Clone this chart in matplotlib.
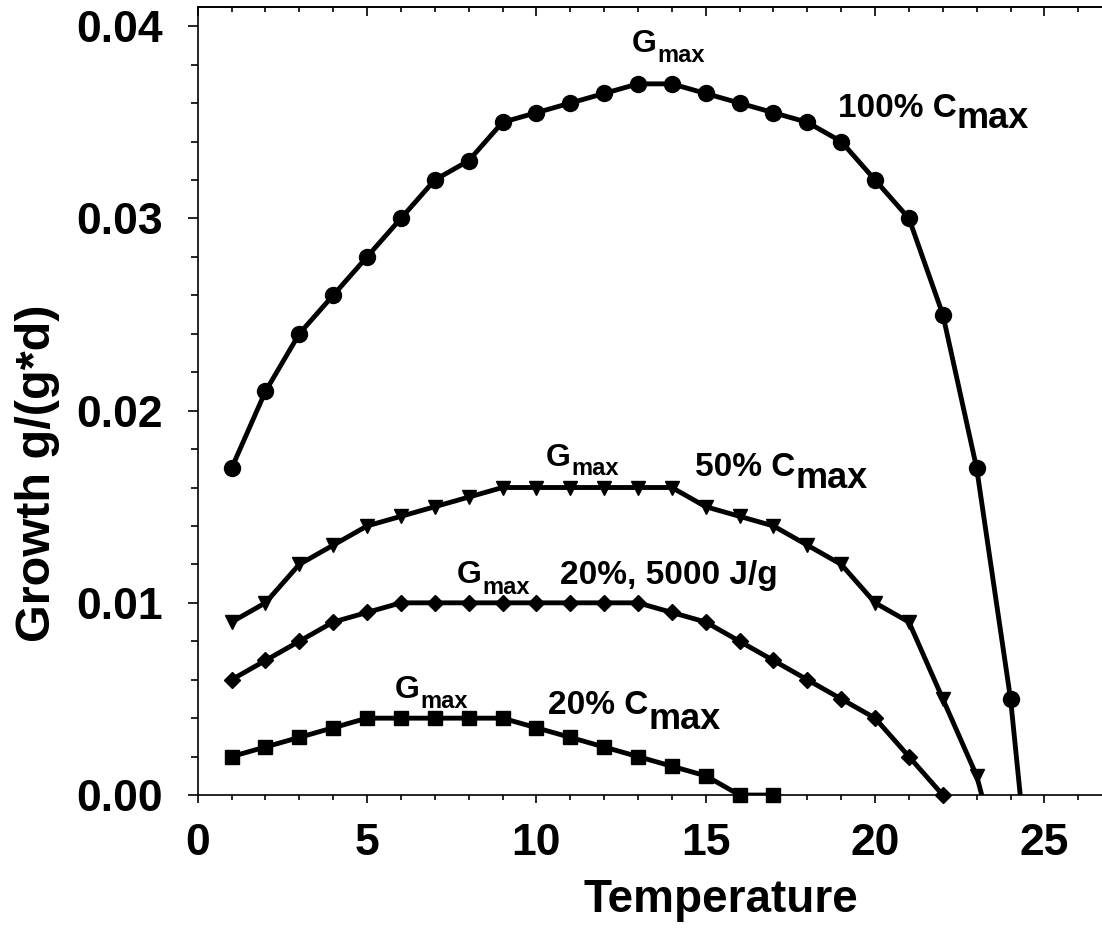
import matplotlib.pyplot as plt
import numpy as np
from matplotlib.ticker import MultipleLocator, FormatStrFormatter

plt.rcParams['font.family'] = ['Liberation Sans', 'DejaVu Sans']
plt.rcParams['font.weight'] = 'bold'

# temperatures and growth values
temp_100 = [1, 2, 3, 4, 5, 6, 7, 8, 9, 10, 11, 12, 13, 14, 15, 16, 17, 18, 19, 20, 21, 22, 23, 24, 25]
growth_100 = [0.017, 0.021, 0.024, 0.026, 0.028, 0.030, 0.032, 0.033, 0.035, 0.0355, 0.036, 0.0365, 0.037,
              0.037, 0.0365, 0.036, 0.0355, 0.035, 0.034, 0.032, 0.030, 0.025, 0.017, 0.005, -0.0125]

temp_50 = [1, 2, 3, 4, 5, 6, 7, 8, 9, 10, 11, 12, 13, 14, 15, 16, 17, 18, 19, 20, 21, 22, 23, 24]
growth_50 = [0.009, 0.010, 0.012, 0.013, 0.014, 0.0145, 0.015, 0.0155, 0.016, 0.016, 0.016, 0.016, 0.016,
             0.016, 0.015, 0.0145, 0.014, 0.013, 0.012, 0.010, 0.009, 0.005, 0.001, -0.0057]

temp_5000 = [1, 2, 3, 4, 5, 6, 7, 8, 9, 10, 11, 12, 13, 14, 15, 16, 17, 18, 19, 20, 21, 22]
growth_5000 = [0.006, 0.007, 0.008, 0.009, 0.0095, 0.010, 0.010, 0.010, 0.010, 0.010, 0.010, 0.010, 0.010,
               0.0095, 0.009, 0.008, 0.007, 0.006, 0.005, 0.004, 0.002, 0.0]

temp_20 = [1, 2, 3, 4, 5, 6, 7, 8, 9, 10, 11, 12, 13, 14, 15, 16, 17]
growth_20 = [0.002, 0.0025, 0.003, 0.0035, 0.004, 0.004, 0.004, 0.004, 0.004, 0.0035, 0.003, 0.0025, 0.002,
             0.0015, 0.001, 0.0, 0.0]

fig = plt.figure(figsize=(11.02, 9.42), dpi=100)
ax = fig.add_axes([0.1794, 0.156, 0.8206, 0.8366])

series = [(temp_100, growth_100, 'o', 11.5),
          (temp_50, growth_50, 'v', 10),
          (temp_5000, growth_5000, 'D', 8.5),
          (temp_20, growth_20, 's', 9.5)]
for t, g, m, ms in series:
    t = np.array(t)
    g = np.array(g)
    ax.plot(t, g, color='black', lw=3.5, zorder=3)
    ok = g >= 0
    ax.plot(t[ok], g[ok], ls='none', marker=m, ms=ms, color='black', clip_on=False, zorder=4)

ax.set_xlim(0, 26.7)
ax.set_ylim(0, 0.041)

ax.xaxis.set_major_locator(MultipleLocator(5))
ax.xaxis.set_minor_locator(MultipleLocator(1))
ax.yaxis.set_major_locator(MultipleLocator(0.01))
ax.yaxis.set_minor_locator(MultipleLocator(0.002))
ax.yaxis.set_major_formatter(FormatStrFormatter('%.2f'))

ax.spines['right'].set_visible(False)
for s in ['left', 'bottom', 'top']:
    ax.spines[s].set_linewidth(1.2)

ax.tick_params(axis='both', which='major', labelsize=32, width=1.2)
ax.tick_params(axis='x', which='major', length=6, pad=14)
ax.tick_params(axis='x', which='minor', length=3.6, width=1.2)
ax.tick_params(axis='y', which='major', length=7, pad=18)
ax.tick_params(axis='y', which='minor', length=5, width=1.2)
ax.tick_params(axis='x', top=False)

top = ax.secondary_xaxis('top')
top.xaxis.set_major_locator(MultipleLocator(5))
top.xaxis.set_minor_locator(MultipleLocator(1))
top.tick_params(axis='x', which='major', direction='in', length=6.5, width=1.2, labeltop=False)
top.tick_params(axis='x', which='minor', direction='in', length=3.6, width=1.2)
top.spines['top'].set_linewidth(1.2)

ax.set_xlabel('Temperature', fontsize=33, fontweight='bold')
ax.set_ylabel('Growth g/(g*d)', fontsize=35, fontweight='bold')
ax.xaxis.set_label_coords(0.578, -0.105)
ax.yaxis.set_label_coords(-0.152, 0.408)

# annotations: base text + large subscript
labels = [
    ('G', 'max', 12.83, 0.03868, 23, 17, 10),
    ('100% C', 'max', 18.91, 0.0353, 24, 26, 11),
    ('G', 'max', 10.29, 0.01713, 23, 17, 9),
    ('50% C', 'max', 14.69, 0.01661, 24, 26, 12),
    ('G', 'max', 7.66, 0.01104, 23, 17, 11),
    ('G', 'max', 5.83, 0.00505, 23, 17, 10),
    ('20% C', 'max', 10.35, 0.00422, 24, 26, 15),
]
texts = []
for base, sub, x, y, fs, sfs, dy in labels:
    tx = ax.text(x, y, base, fontsize=fs, fontweight='bold', ha='left', va='baseline')
    texts.append((tx, sub, x, y, sfs, dy))
ax.text(10.70, 0.01099, '20%, 5000 J/g', fontsize=24, fontweight='bold', ha='left', va='baseline')

fig.canvas.draw()
for tx, sub, x, y, sfs, dy in texts:
    bb = tx.get_window_extent()
    bx, by = ax.transData.transform((x, y))
    fig.text(bb.x1 / fig.bbox.width, (by - dy) / fig.bbox.height, sub, fontsize=sfs,
             fontweight='bold', ha='left', va='baseline')

fig.savefig('out.png', dpi=100)
